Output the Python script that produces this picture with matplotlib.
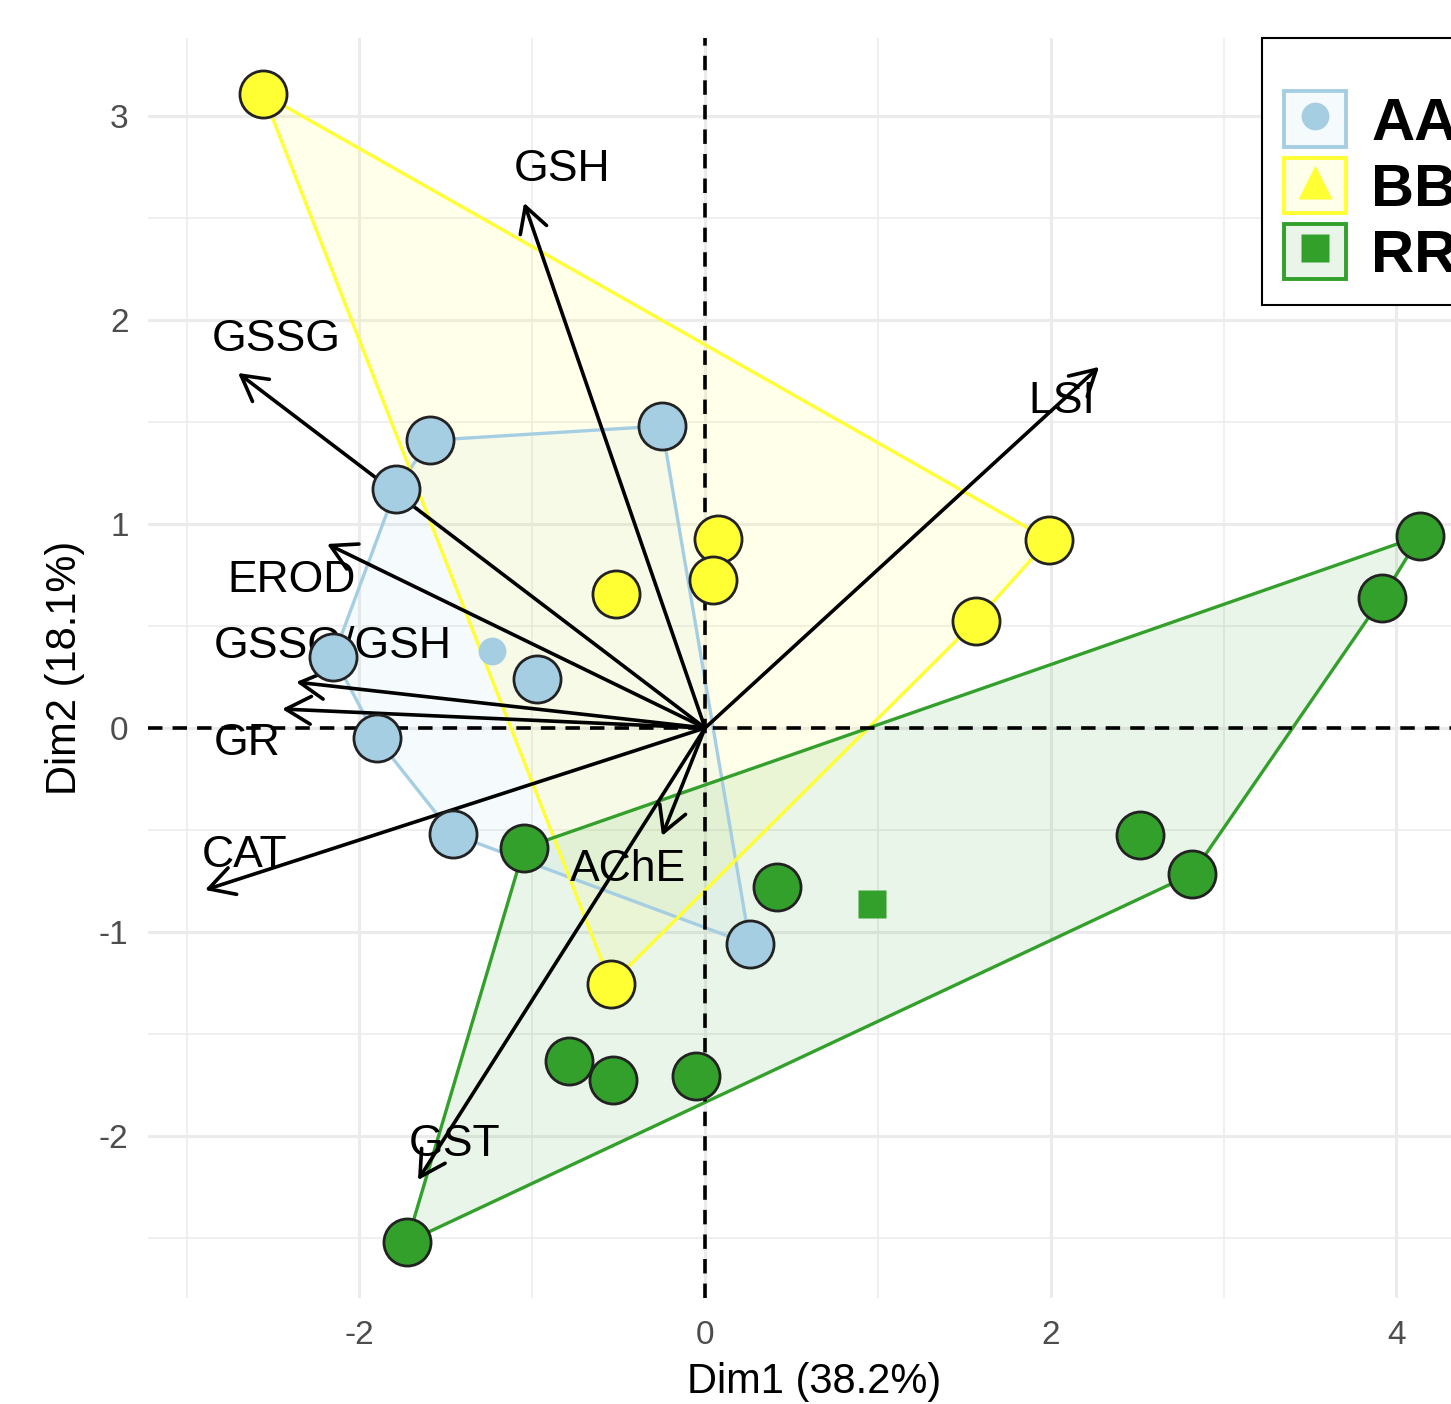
"""PCA biplot (Dim1 vs Dim2) with group hulls, centroids and variable arrows."""

import numpy as np
import matplotlib
matplotlib.use("Agg")
import matplotlib.pyplot as plt
from matplotlib.patches import Polygon, Patch, FancyArrowPatch
from matplotlib.lines import Line2D
from matplotlib.legend_handler import HandlerTuple

plt.rcParams["font.family"] = ["Liberation Sans", "DejaVu Sans"]
plt.rcParams["axes.unicode_minus"] = False

# ---- individuals (scores on Dim1 / Dim2) --------------------------------------
aa_x = [-1.59, -0.25, -1.79, -2.15, -0.97, -1.90, -1.46, 0.26]
aa_y = [1.41, 1.48, 1.17, 0.35, 0.24, -0.05, -0.52, -1.06]

bb_x = [-2.557, 0.075, 0.046, -0.515, 1.990, 1.568, -0.544]
bb_y = [3.108, 0.926, 0.725, 0.657, 0.922, 0.525, -1.255]

rr_x = [4.137, 3.917, 2.517, 2.818, 0.417, -1.047, -0.787, -0.532, -0.052, -1.724]
rr_y = [0.941, 0.637, -0.525, -0.716, -0.779, -0.588, -1.632, -1.725, -1.706, -2.520]

groups = ["AA", "BB", "RR"]
group_colors = ["#A6CEE3", "#FFFF33", "#33A02C"]
group_markers = ["o", "^", "s"]

# ---- variables (loadings, arrow tips) and label positions --------------------
var_names = ["GSH", "GSSG", "LSI", "EROD", "GSSG/GSH", "GR", "CAT", "AChE", "GST"]
var_x = [-1.047, -2.702, 2.280, -2.187, -2.366, -2.447, -2.893, -0.249, -1.661]
var_y = [2.574, 1.740, 1.770, 0.902, 0.225, 0.093, -0.794, -0.529, -2.216]
lab_x = [-0.827, -2.482, 2.066, -2.395, -2.152, -2.650, -2.667, -0.446, -1.447]
lab_y = [2.735, 1.902, 1.598, 0.725, 0.397, -0.078, -0.627, -0.696, -2.044]

x_label = "Dim1 (38.2%)"
y_label = "Dim2 (18.1%)"


def convex_hull(xs, ys):
    pts = sorted(set(zip(xs, ys)))

    def cross(o, a, b):
        return (a[0] - o[0]) * (b[1] - o[1]) - (a[1] - o[1]) * (b[0] - o[0])

    lower, upper = [], []
    for p in pts:
        while len(lower) >= 2 and cross(lower[-2], lower[-1], p) <= 0:
            lower.pop()
        lower.append(p)
    for p in reversed(pts):
        while len(upper) >= 2 and cross(upper[-2], upper[-1], p) <= 0:
            upper.pop()
        upper.append(p)
    return lower[:-1] + upper[:-1]


W, H = 1451, 1404
fig = plt.figure(figsize=(W / 100, H / 100), dpi=100)
ax = fig.add_axes([148 / W, (H - 1298) / H, (1480 - 148) / W, (1298 - 38) / H])
ax.set_xlim(-3.223, 4.484)
ax.set_ylim(-2.794, 3.382)

# grid (theme_minimal look)
ax.set_xticks([-2, 0, 2, 4])
ax.set_xticks([-3, -1, 1, 3], minor=True)
ax.set_yticks([-2, -1, 0, 1, 2, 3])
ax.set_yticks(np.arange(-2.5, 3.0, 1.0), minor=True)
ax.grid(True, which="major", color="#EBEBEB", lw=2.2, zorder=0)
ax.grid(True, which="minor", color="#EBEBEB", lw=1.1, zorder=0)
ax.set_axisbelow(True)
for s in ax.spines.values():
    s.set_visible(False)
ax.tick_params(which="both", length=0)
ax.tick_params(axis="x", labelsize=24, labelcolor="#4D4D4D", pad=16)
ax.tick_params(axis="y", labelsize=24, labelcolor="#4D4D4D", pad=14)
ax.set_xlabel(x_label, fontsize=30, labelpad=8)
ax.set_ylabel(y_label, fontsize=30, labelpad=10)

# reference lines
ax.axhline(0, color="black", ls=(0, (4, 2.8)), lw=2.6, zorder=1.5)
ax.axvline(0, color="black", ls=(0, (4, 2.8)), lw=2.6, zorder=1.5)

data = [(aa_x, aa_y), (bb_x, bb_y), (rr_x, rr_y)]

# hulls
for (xs, ys), col in zip(data, group_colors):
    hull = convex_hull(xs, ys)
    ax.add_patch(Polygon(hull, closed=True, facecolor=col, alpha=0.1,
                         edgecolor="none", zorder=1))
    ax.add_patch(Polygon(hull, closed=True, facecolor="none",
                         edgecolor=col, lw=2.4, zorder=1.2))

# group centroids
for (xs, ys), col, m in zip(data, group_colors, group_markers):
    ax.plot(np.mean(xs), np.mean(ys), marker=m, color=col, ms=20,
            mec="none", ls="", zorder=2)

# variable labels and arrows
for name, tx, ty, lx, ly in zip(var_names, var_x, var_y, lab_x, lab_y):
    ax.text(lx, ly, name, fontsize=32, ha="center", va="center", zorder=3)
    ax.add_patch(FancyArrowPatch(
        (0, 0), (tx, ty), arrowstyle="->,head_length=0.9,head_width=0.5",
        mutation_scale=20, color="black", lw=2.6, shrinkA=0, shrinkB=0,
        zorder=4))

# individual points on top
for (xs, ys), col in zip(data, group_colors):
    ax.scatter(xs, ys, s=1150, facecolor=col, edgecolor="#222222",
               linewidths=2.0, zorder=5)

# legend
handles = []
for col, m in zip(group_colors, group_markers):
    rgba = matplotlib.colors.to_rgba(col, 0.1)
    box = Patch(facecolor=rgba, edgecolor=col, lw=2.8)
    mk = Line2D([], [], marker=m, color=col, ms=24 if m == "^" else 20,
                mec="none", ls="")
    handles.append((box, mk))
leg = fig.legend(handles, groups, loc="upper left",
                 bbox_to_anchor=(1262 / W, 1 - 38 / H),
                 bbox_transform=fig.transFigure, borderaxespad=0,
                 handler_map={tuple: HandlerTuple(ndivide=1)},
                 prop={"size": 43, "weight": "bold"},
                 title=" ", title_fontsize=20,
                 handlelength=1.05, handleheight=1.05, handletextpad=0.42,
                 labelspacing=0.1, borderpad=0.36, fancybox=False,
                 framealpha=1, edgecolor="black")
leg.get_frame().set_linewidth(1.5)

fig.savefig("out.png", dpi=100)
